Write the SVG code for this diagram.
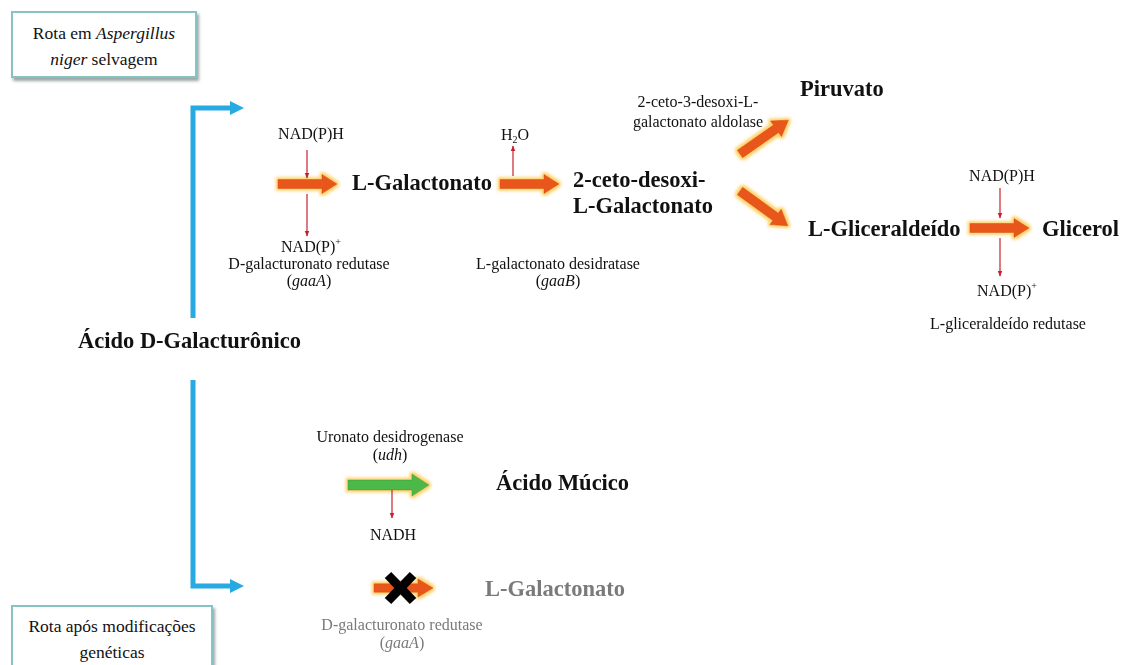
<svg xmlns="http://www.w3.org/2000/svg" width="1134" height="665" viewBox="0 0 1134 665" font-family="'Liberation Serif', 'DejaVu Serif', serif">
<style>
text{font-family:'Liberation Serif','DejaVu Serif',serif;fill:#111}
.s{font-size:16px}
.b{font-size:22.5px;font-weight:bold}
.box{font-size:17.5px}
.g{fill:#7a7a7a}
.m{text-anchor:middle}
.red{stroke:#C8202A;stroke-width:1.2;fill:none}
.blue{stroke:#27A9E1;stroke-width:5;fill:none}
.oa{fill:#E8571B;stroke:#D9480F;stroke-width:0.6}
</style>
<defs>
<marker id="rh" viewBox="0 0 10 10" refX="9" refY="5" markerWidth="6" markerHeight="6" orient="auto" markerUnits="userSpaceOnUse"><path d="M0,1 L10,5 L0,9 Z" fill="#C8202A"/></marker>
<path id="arr" d="M0,-4.5 H44 V-9.5 L59,0 L44,9.5 V4.5 H0 Z"/>
<filter id="glow" x="-30%" y="-60%" width="160%" height="220%">
<feMorphology in="SourceAlpha" operator="dilate" radius="1.5" result="d"/>
<feGaussianBlur in="d" stdDeviation="1.6" result="bl"/>
<feFlood flood-color="#FFC94F" flood-opacity="0.85"/>
<feComposite in2="bl" operator="in" result="gl"/>
<feMerge><feMergeNode in="gl"/><feMergeNode in="SourceGraphic"/></feMerge>
</filter>
<filter id="sh" x="-10%" y="-10%" width="130%" height="140%"><feDropShadow dx="2" dy="3" stdDeviation="1.5" flood-color="#5a6b6b" flood-opacity="0.6"/></filter>
</defs>

<g id="box-wild">
<rect x="12" y="12" width="184" height="65" fill="#fff" stroke="#86C4C4" stroke-width="2" filter="url(#sh)"/>
<text class="box m" x="104" y="39">Rota em <tspan font-style="italic">Aspergillus</tspan></text>
<text class="box m" x="104" y="65"><tspan font-style="italic">niger</tspan> selvagem</text>
</g>

<g id="box-mod">
<rect x="12" y="606" width="200" height="70" fill="#fff" stroke="#86C4C4" stroke-width="2" filter="url(#sh)"/>
<text class="box m" x="112" y="632">Rota após modificações</text>
<text class="box m" x="112" y="658">genéticas</text>
</g>

<g id="connectors">
<path class="blue" d="M193,318 V108 H232"/>
<polygon points="230,101 244,108 230,115" fill="#27A9E1"/>
<path class="blue" d="M193,380 V586 H232"/>
<polygon points="230,579 244,586 230,593" fill="#27A9E1"/>

<g filter="url(#glow)">
<use href="#arr" class="oa" transform="translate(278,184)"/>
<use href="#arr" class="oa" transform="translate(500,184)"/>
<use href="#arr" class="oa" transform="translate(740,154) rotate(-35)"/>
<use href="#arr" class="oa" transform="translate(740,191) rotate(36)"/>
<use href="#arr" class="oa" transform="translate(970,228)"/>
<path d="M348,480 H412 V474 L429,485 L412,496 V490 H348 Z" fill="#4CB848" stroke="#3E9E3A" stroke-width="0.6"/>
<use href="#arr" class="oa" transform="translate(374,588) scale(1,0.95)"/>
</g>
<g stroke="#000" stroke-width="9">
<line x1="388" y1="575" x2="413" y2="601"/>
<line x1="413" y1="575" x2="388" y2="601"/>
</g>

<line class="red" x1="307" y1="150" x2="307" y2="178" marker-end="url(#rh)"/>
<line class="red" x1="307" y1="194" x2="307" y2="236" marker-end="url(#rh)"/>
<line class="red" x1="513" y1="176" x2="513" y2="146" marker-end="url(#rh)"/>
<line class="red" x1="1000" y1="188" x2="1000" y2="218" marker-end="url(#rh)"/>
<line class="red" x1="1000" y1="238" x2="1000" y2="276" marker-end="url(#rh)"/>
<line class="red" x1="392" y1="490" x2="392" y2="518" marker-end="url(#rh)"/>
</g>

<g id="n-galacturonico"><text class="b" x="78" y="348">Ácido D-Galacturônico</text></g>

<g id="r-gaaA">
<text class="s m" x="311" y="139">NAD(P)H</text>
<text class="s m" x="311" y="252">NAD(P)<tspan font-size="10" dy="-7">+</tspan></text>
<text class="s m" x="309" y="269">D-galacturonato redutase</text>
<text class="s m" x="309" y="286">(<tspan font-style="italic">gaaA</tspan>)</text>
</g>

<g id="n-galactonato"><text class="b" x="352" y="190">L-Galactonato</text></g>

<g id="r-gaaB">
<text class="s m" x="515" y="140">H<tspan font-size="10" dy="3">2</tspan><tspan dy="-3">O</tspan></text>
<text class="s m" x="558" y="269">L-galactonato desidratase</text>
<text class="s m" x="558" y="286">(<tspan font-style="italic">gaaB</tspan>)</text>
</g>

<g id="n-ceto"><text class="b" x="573" y="187">2-ceto-desoxi-</text><text class="b" x="573" y="213">L-Galactonato</text></g>

<g id="r-aldolase">
<text class="s m" x="698" y="107">2-ceto-3-desoxi-L-</text>
<text class="s m" x="698" y="127">galactonato aldolase</text>
</g>

<g id="n-piruvato"><text class="b" x="800" y="96">Piruvato</text></g>
<g id="n-gliceraldeido"><text class="b" x="808" y="236">L-Gliceraldeído</text></g>
<g id="n-glicerol"><text class="b" x="1042" y="236">Glicerol</text></g>

<g id="r-glic">
<text class="s m" x="1002" y="181">NAD(P)H</text>
<text class="s m" x="1007" y="296">NAD(P)<tspan font-size="10" dy="-7">+</tspan></text>
<text class="s m" x="1008" y="329">L-gliceraldeído redutase</text>
</g>

<g id="r-udh">
<text class="s m" x="390" y="442">Uronato desidrogenase</text>
<text class="s m" x="390" y="460">(<tspan font-style="italic">udh</tspan>)</text>
<text class="s m" x="393" y="540">NADH</text>
</g>
<g id="n-mucico"><text class="b" x="496" y="490">Ácido Múcico</text></g>

<g id="n-galactonato2"><text class="b g" x="485" y="596">L-Galactonato</text></g>
<g id="r-gaaA2">
<text class="s m g" x="402" y="630">D-galacturonato redutase</text>
<text class="s m g" x="402" y="648">(<tspan font-style="italic">gaaA</tspan>)</text>
</g>
</svg>
